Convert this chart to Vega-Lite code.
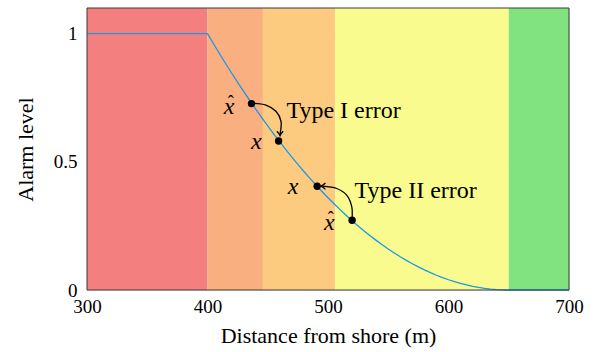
{
  "$schema": "https://vega.github.io/schema/vega-lite/v6.json",
  "width": 482,
  "height": 282,
  "autosize": {"type": "none"},
  "padding": {"left": 87, "top": 8, "right": 26, "bottom": 62},
  "config": {
    "font": "Liberation Serif",
    "view": {"stroke": null},
    "axis": {
      "labelFont": "Liberation Serif",
      "titleFont": "Liberation Serif",
      "labelFontSize": 19,
      "titleFontSize": 22,
      "titleFontWeight": "normal",
      "labelColor": "#000",
      "titleColor": "#000",
      "labelFlush": false,
      "ticks": false,
      "domain": false,
      "grid": true,
      "gridColor": "#000",
      "gridOpacity": 0.09,
      "zindex": 1
    }
  },
  "datasets": {
    "bands": [
      {"start": 300, "end": 400, "zone": "red"},
      {"start": 400, "end": 446, "zone": "orange"},
      {"start": 446, "end": 506, "zone": "lightorange"},
      {"start": 506, "end": 650, "zone": "yellow"},
      {"start": 650, "end": 700, "zone": "green"}
    ],
    "curve": [
      {"d": 300, "a": 1}, {"d": 400, "a": 1}, {"d": 405, "a": 0.9604}, {"d": 410, "a": 0.9216},
      {"d": 415, "a": 0.8836}, {"d": 420, "a": 0.8464}, {"d": 425, "a": 0.81}, {"d": 430, "a": 0.7744},
      {"d": 435, "a": 0.7396}, {"d": 440, "a": 0.7056}, {"d": 445, "a": 0.6724}, {"d": 450, "a": 0.64},
      {"d": 455, "a": 0.6084}, {"d": 460, "a": 0.5776}, {"d": 465, "a": 0.5476}, {"d": 470, "a": 0.5184},
      {"d": 475, "a": 0.49}, {"d": 480, "a": 0.4624}, {"d": 485, "a": 0.4356}, {"d": 490, "a": 0.4096},
      {"d": 495, "a": 0.3844}, {"d": 500, "a": 0.36}, {"d": 505, "a": 0.3364}, {"d": 510, "a": 0.3136},
      {"d": 515, "a": 0.2916}, {"d": 520, "a": 0.2704}, {"d": 525, "a": 0.25}, {"d": 530, "a": 0.2304},
      {"d": 535, "a": 0.2116}, {"d": 540, "a": 0.1936}, {"d": 545, "a": 0.1764}, {"d": 550, "a": 0.16},
      {"d": 555, "a": 0.1444}, {"d": 560, "a": 0.1296}, {"d": 565, "a": 0.1156}, {"d": 570, "a": 0.1024},
      {"d": 575, "a": 0.09}, {"d": 580, "a": 0.0784}, {"d": 585, "a": 0.0676}, {"d": 590, "a": 0.0576},
      {"d": 595, "a": 0.0484}, {"d": 600, "a": 0.04}, {"d": 605, "a": 0.0324}, {"d": 610, "a": 0.0256},
      {"d": 615, "a": 0.0196}, {"d": 620, "a": 0.0144}, {"d": 625, "a": 0.01}, {"d": 630, "a": 0.0064},
      {"d": 635, "a": 0.0036}, {"d": 640, "a": 0.0016}, {"d": 645, "a": 0.0004}, {"d": 650, "a": 0},
      {"d": 700, "a": 0}
    ],
    "arcs": [
      {"arc": "I", "seq": 1, "d": 436.9, "a": 0.728},
      {"arc": "I", "seq": 2, "d": 448.5, "a": 0.721},
      {"arc": "I", "seq": 3, "d": 456.8, "a": 0.697},
      {"arc": "I", "seq": 4, "d": 461.0, "a": 0.658},
      {"arc": "I", "seq": 5, "d": 460.2, "a": 0.608},
      {"arc": "II", "seq": 1, "d": 520.0, "a": 0.28},
      {"arc": "II", "seq": 2, "d": 519.7, "a": 0.325},
      {"arc": "II", "seq": 3, "d": 515.5, "a": 0.37},
      {"arc": "II", "seq": 4, "d": 507.2, "a": 0.396},
      {"arc": "II", "seq": 5, "d": 495.5, "a": 0.405}
    ],
    "points": [
      {"d": 436.5, "a": 0.727},
      {"d": 459, "a": 0.581},
      {"d": 491, "a": 0.405},
      {"d": 520, "a": 0.272}
    ],
    "mathlabels": [
      {"d": 418, "a": 0.715, "t": "x", "hat": true},
      {"d": 440.5, "a": 0.576, "t": "x", "hat": false},
      {"d": 471, "a": 0.40, "t": "x", "hat": false},
      {"d": 501, "a": 0.262, "t": "x", "hat": true}
    ],
    "textlabels": [
      {"d": 465.5, "a": 0.697, "t": "Type I error"},
      {"d": 522, "a": 0.386, "t": "Type II error"}
    ]
  },
  "layer": [
    {
      "data": {"name": "bands"},
      "mark": {"type": "rect"},
      "encoding": {
        "x": {"field": "start", "type": "quantitative", "scale": {"domain": [300, 700], "nice": false, "zero": false},
              "axis": {"title": "Distance from shore (m)", "values": [300, 400, 500, 600, 700], "labelPadding": 7, "titlePadding": 9}},
        "x2": {"field": "end"},
        "color": {"field": "zone", "type": "nominal", "legend": null,
                  "scale": {"domain": ["red", "orange", "lightorange", "yellow", "green"],
                            "range": ["#F47F7F", "#F9AF7F", "#FDCB80", "#F9FB8F", "#80E37F"]}}
      }
    },
    {
      "data": {"name": "curve"},
      "mark": {"type": "line", "color": "#1B98E3", "strokeWidth": 1.3},
      "encoding": {
        "x": {"field": "d", "type": "quantitative"},
        "y": {"field": "a", "type": "quantitative", "scale": {"domain": [0, 1.1], "nice": false},
              "axis": {"title": "Alarm level", "values": [0, 0.5, 1], "format": "~g", "labelPadding": 10, "titlePadding": 16}}
      }
    },
    {
      "data": {"name": "arcs"},
      "mark": {"type": "line", "color": "#000", "strokeWidth": 1.3, "interpolate": "catmull-rom"},
      "encoding": {
        "x": {"field": "d", "type": "quantitative"},
        "y": {"field": "a", "type": "quantitative"},
        "detail": {"field": "arc"},
        "order": {"field": "seq"}
      }
    },
    {
      "data": {"name": "arcs"},
      "transform": [{"filter": "datum.arc == 'I' && datum.seq == 5"}],
      "mark": {"type": "point", "shape": "M-1,-0.9 Q-0.3,-0.2 0,0.5 Q0.3,-0.2 1,-0.9", "filled": false, "stroke": "#000", "strokeWidth": 1.3, "size": 40, "opacity": 1},
      "encoding": {
        "x": {"field": "d", "type": "quantitative"},
        "y": {"field": "a", "type": "quantitative"}
      }
    },
    {
      "data": {"name": "arcs"},
      "transform": [{"filter": "datum.arc == 'II' && datum.seq == 5"}],
      "mark": {"type": "point", "shape": "M0.9,-1 Q0.2,-0.3 -0.5,0 Q0.2,0.3 0.9,1", "filled": false, "stroke": "#000", "strokeWidth": 1.3, "size": 40, "opacity": 1},
      "encoding": {
        "x": {"field": "d", "type": "quantitative"},
        "y": {"field": "a", "type": "quantitative"}
      }
    },
    {
      "data": {"name": "points"},
      "mark": {"type": "circle", "color": "#000", "size": 55, "opacity": 1},
      "encoding": {
        "x": {"field": "d", "type": "quantitative"},
        "y": {"field": "a", "type": "quantitative"}
      }
    },
    {
      "data": {"name": "mathlabels"},
      "mark": {"type": "text", "font": "Liberation Serif", "fontStyle": "italic", "fontSize": 24, "align": "center", "baseline": "middle", "color": "#000"},
      "encoding": {
        "x": {"field": "d", "type": "quantitative"},
        "y": {"field": "a", "type": "quantitative"},
        "text": {"field": "t"}
      }
    },
    {
      "data": {"name": "mathlabels"},
      "transform": [{"filter": "datum.hat"}],
      "mark": {"type": "text", "text": "ˆ", "font": "Liberation Serif", "fontSize": 18, "align": "center", "baseline": "middle", "dx": 1.5, "dy": -4, "color": "#000"},
      "encoding": {
        "x": {"field": "d", "type": "quantitative"},
        "y": {"field": "a", "type": "quantitative"}
      }
    },
    {
      "data": {"name": "textlabels"},
      "mark": {"type": "text", "font": "Liberation Serif", "fontSize": 24, "align": "left", "baseline": "middle", "color": "#000"},
      "encoding": {
        "x": {"field": "d", "type": "quantitative"},
        "y": {"field": "a", "type": "quantitative"},
        "text": {"field": "t"}
      }
    },
    {
      "data": {"values": [{}]},
      "mark": {"type": "rect", "fill": null, "stroke": "#3a3a3a", "strokeWidth": 1},
      "encoding": {
        "x": {"datum": 300, "type": "quantitative"},
        "x2": {"datum": 700},
        "y": {"datum": 0, "type": "quantitative"},
        "y2": {"datum": 1.1}
      }
    }
  ]
}
